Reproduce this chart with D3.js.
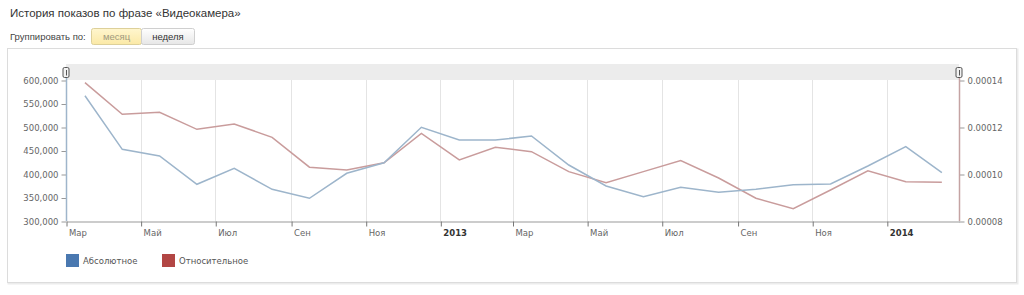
<!DOCTYPE html>
<html>
<head>
<meta charset="utf-8">
<script src="https://cdn.jsdelivr.net/npm/d3@7"></script>
<style>
  html, body { margin: 0; padding: 0; background: #fff; }
  svg { display: block; }
</style>
</head>
<body>
<div id="chart"></div>
<script>
// Monthly data, Mar 2012 .. Feb 2014
const months = ['2012-03', '2012-04', '2012-05', '2012-06', '2012-07', '2012-08', '2012-09', '2012-10',
  '2012-11', '2012-12', '2013-01', '2013-02', '2013-03', '2013-04', '2013-05', '2013-06', '2013-07',
  '2013-08', '2013-09', '2013-10', '2013-11', '2013-12', '2014-01', '2014-02'];

const absoluteValues = [566600, 452500, 438300, 378100, 412100, 367400, 348300, 401500,
  424000, 499300, 472300, 472300, 480800, 419100, 374500, 351700, 371700,
  361000, 367400, 377300, 378700, 417000, 458200, 402800];

const relativeValues = [0.0001389, 0.0001254, 0.0001263, 0.0001190, 0.0001213, 0.0001156, 0.0001029, 0.0001017,
  0.0001048, 0.0001173, 0.0001060, 0.0001114, 0.0001095, 0.0001010, 0.0000963, 0.0001010, 0.0001057,
  0.0000983, 0.0000897, 0.0000852, 0.0000932, 0.0001014, 0.0000967, 0.0000965];

const monthNames = ['Янв', 'Фев', 'Мар', 'Апр', 'Май', 'Июн', 'Июл', 'Авг', 'Сен', 'Окт', 'Ноя', 'Дек'];
const leftTicks = [300000, 350000, 400000, 450000, 500000, 550000, 600000];
const rightTicks = [0.00008, 0.00010, 0.00012, 0.00014];
const seriesNames = ['Абсолютное', 'Относительное'];

const width = 1024, height = 295;
const plot = { left: 66, right: 959, top: 80, bottom: 221 };
const axisFont = 'DejaVu Sans, Verdana, sans-serif';
const uiFont = 'Liberation Sans, Arial, sans-serif';

const svg = d3.select('#chart').append('svg')
  .attr('width', width)
  .attr('height', height);

// Header
svg.append('text')
  .attr('x', 10).attr('y', 17)
  .attr('font-family', uiFont).attr('font-size', 11.5)
  .attr('fill', '#333')
  .text('История показов по фразе «Видеокамера»');

svg.append('text')
  .attr('x', 10).attr('y', 40)
  .attr('font-family', uiFont).attr('font-size', 9.5)
  .attr('fill', '#444')
  .text('Группировать по:');

const defs = svg.append('defs');
const gYellow = defs.append('linearGradient').attr('id', 'btnYellow').attr('x1', 0).attr('y1', 0).attr('x2', 0).attr('y2', 1);
gYellow.append('stop').attr('offset', 0).attr('stop-color', '#fff6cf');
gYellow.append('stop').attr('offset', 1).attr('stop-color', '#fbe9a6');
const gGray = defs.append('linearGradient').attr('id', 'btnGray').attr('x1', 0).attr('y1', 0).attr('x2', 0).attr('y2', 1);
gGray.append('stop').attr('offset', 0).attr('stop-color', '#ffffff');
gGray.append('stop').attr('offset', 1).attr('stop-color', '#e6e6e6');

svg.append('rect')
  .attr('x', 91.5).attr('y', 28.5).attr('width', 50).attr('height', 16)
  .attr('rx', 2)
  .attr('fill', 'url(#btnYellow)').attr('stroke', '#ddd09a');
svg.append('rect')
  .attr('x', 141.5).attr('y', 28.5).attr('width', 53).attr('height', 16)
  .attr('rx', 2)
  .attr('fill', 'url(#btnGray)').attr('stroke', '#cfcfcf');
svg.append('text')
  .attr('x', 116.5).attr('y', 40).attr('text-anchor', 'middle')
  .attr('font-family', uiFont).attr('font-size', 9.5).attr('fill', '#a09a80')
  .text('месяц');
svg.append('text')
  .attr('x', 168).attr('y', 40).attr('text-anchor', 'middle')
  .attr('font-family', uiFont).attr('font-size', 9.5).attr('fill', '#333')
  .text('неделя');

// Chart frame
svg.append('rect')
  .attr('x', 8.5).attr('y', 49.5).attr('width', 1009).attr('height', 234)
  .attr('fill', 'none').attr('stroke', '#ececec').attr('stroke-width', 2);
svg.append('rect')
  .attr('x', 7.5).attr('y', 48.5).attr('width', 1009).attr('height', 234)
  .attr('fill', '#fff').attr('stroke', '#dcdcdc');

// Scales
const parseMonth = d3.utcParse('%Y-%m');
const monthStarts = months.map(parseMonth);
const x = d3.scaleUtc()
  .domain([monthStarts[0], d3.utcMonth.offset(monthStarts[monthStarts.length - 1], 1)])
  .range([plot.left, plot.right]);
const yLeft = d3.scaleLinear().domain([300000, 600000]).range([plot.bottom, plot.top]);
const yRight = d3.scaleLinear().domain([0.00008, 0.00014]).range([plot.bottom, plot.top]);

const midMonth = d => new Date((d.getTime() + d3.utcMonth.offset(d, 1).getTime()) / 2);
const points = monthStarts.map((d, i) => ({ date: midMonth(d), abs: absoluteValues[i], rel: relativeValues[i] }));

// Navigator band
svg.append('rect')
  .attr('x', plot.left).attr('y', 64)
  .attr('width', plot.right - plot.left).attr('height', plot.top - 64)
  .attr('fill', '#ececec');

// Vertical grid lines
const xTicks = x.ticks(d3.utcMonth.every(2)).filter(d => x(d) < plot.right - 1);
svg.append('g')
  .selectAll('line')
  .data(xTicks.filter(d => x(d) > plot.left + 1))
  .join('line')
  .attr('x1', d => Math.round(x(d)) + 0.5).attr('x2', d => Math.round(x(d)) + 0.5)
  .attr('y1', plot.top).attr('y2', plot.bottom)
  .attr('stroke', '#e4e4e4');

// X axis
const xAxis = svg.append('g')
  .attr('transform', `translate(0.5, ${plot.bottom + 0.5})`)
  .call(d3.axisBottom(x).tickValues(xTicks).tickSize(5).tickSizeOuter(0)
    .tickFormat(d => d.getUTCMonth() === 0 ? String(d.getUTCFullYear()) : monthNames[d.getUTCMonth()]));
xAxis.select('.domain').attr('stroke', '#999');
xAxis.selectAll('.tick line').attr('stroke', '#777');
xAxis.selectAll('.tick text')
  .attr('text-anchor', 'start')
  .attr('x', 2).attr('y', 8)
  .attr('font-family', axisFont).attr('font-size', 8.5)
  .attr('font-weight', d => d.getUTCMonth() === 0 ? 'bold' : 'normal')
  .attr('fill', d => d.getUTCMonth() === 0 ? '#333' : '#666');

// Left axis
const leftAxis = svg.append('g')
  .attr('transform', `translate(${plot.left + 0.5}, 0.5)`)
  .call(d3.axisLeft(yLeft).tickValues(leftTicks).tickSize(5).tickPadding(3).tickFormat(d3.format(',')));
leftAxis.select('.domain').remove();
leftAxis.selectAll('.tick line').attr('stroke', '#999');
leftAxis.selectAll('.tick text')
  .attr('font-family', axisFont).attr('font-size', 8.5).attr('fill', '#666');
svg.append('line')
  .attr('x1', plot.left + 0.5).attr('x2', plot.left + 0.5)
  .attr('y1', 76).attr('y2', plot.bottom)
  .attr('stroke', '#9fb5cb').attr('stroke-width', 1.5);

// Right axis
const rightAxis = svg.append('g')
  .attr('transform', `translate(${plot.right + 0.5}, 0.5)`)
  .call(d3.axisRight(yRight).tickValues(rightTicks).tickSize(5).tickPadding(3).tickFormat(d3.format('.5f')));
rightAxis.select('.domain').remove();
rightAxis.selectAll('.tick line').attr('stroke', '#999');
rightAxis.selectAll('.tick text')
  .attr('font-family', axisFont).attr('font-size', 8.5).attr('fill', '#666');
svg.append('line')
  .attr('x1', plot.right + 0.5).attr('x2', plot.right + 0.5)
  .attr('y1', 76).attr('y2', plot.bottom)
  .attr('stroke', '#c4a3a3').attr('stroke-width', 1.5);

// Navigator handles
[plot.left, plot.right].forEach(hx => {
  svg.append('rect')
    .attr('x', hx - 3).attr('y', 67.5).attr('width', 6).attr('height', 10)
    .attr('rx', 1.5)
    .attr('fill', '#f2f2f2').attr('stroke', '#555');
  svg.append('line')
    .attr('x1', hx + 0.5).attr('x2', hx + 0.5)
    .attr('y1', 70).attr('y2', 75.5)
    .attr('stroke', '#555');
});

// Lines
const lineAbs = d3.line().x(d => x(d.date)).y(d => yLeft(d.abs));
const lineRel = d3.line().x(d => x(d.date)).y(d => yRight(d.rel));

svg.append('path')
  .datum(points)
  .attr('d', lineRel)
  .attr('fill', 'none')
  .attr('stroke', '#c99c9c')
  .attr('stroke-width', 1.5);

svg.append('path')
  .datum(points)
  .attr('d', lineAbs)
  .attr('fill', 'none')
  .attr('stroke', '#9db5cb')
  .attr('stroke-width', 1.5);

// Legend
const legendColors = ['#4a78b0', '#b24644'];
const legendX = [66, 162];
const legend = svg.append('g');
seriesNames.forEach((name, i) => {
  legend.append('rect')
    .attr('x', legendX[i]).attr('y', 254)
    .attr('width', 13).attr('height', 13)
    .attr('fill', legendColors[i]);
  legend.append('text')
    .attr('x', legendX[i] + 17).attr('y', 264)
    .attr('font-family', axisFont).attr('font-size', 8.5)
    .attr('fill', '#555')
    .text(name);
});
</script>
</body>
</html>
